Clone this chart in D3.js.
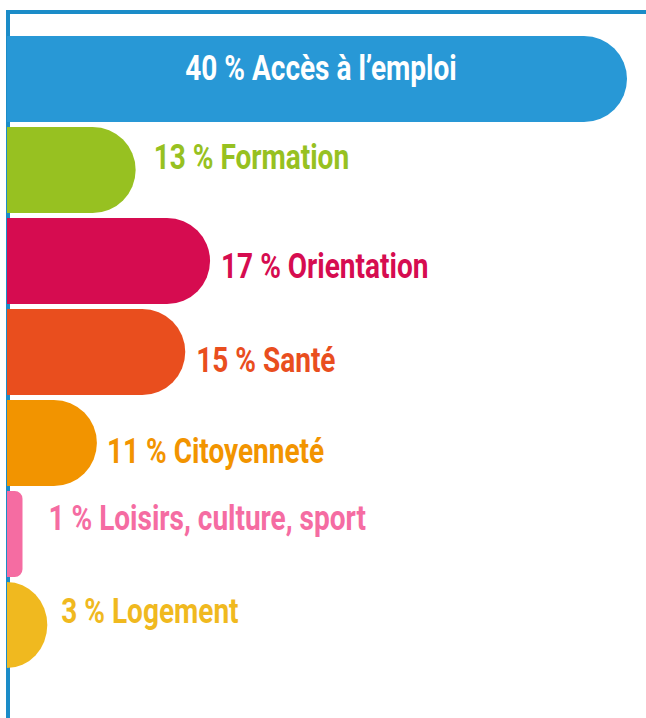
<!DOCTYPE html>
<html>
<head>
<meta charset="utf-8">
<script src="https://cdn.jsdelivr.net/npm/d3@7"></script>
<style>
  html, body { margin: 0; padding: 0; background: #fff; }
  svg { display: block; }
</style>
</head>
<body>
<svg id="chart" width="646" height="718"></svg>
<script>
// categories, from top to bottom
var themes = ["Accès à l’emploi", "Formation", "Orientation", "Santé", "Citoyenneté", "Loisirs, culture, sport", "Logement"];
// share shown in each label (%)
var shares = [40, 13, 17, 15, 11, 1, 3];
// length of each bar, in the same % units as the first bar
var barLengths = [40, 8.3, 13.1, 11.5, 5.8, 1.0, 2.6];
var colors = ["#2898d6", "#97c121", "#d60c50", "#e94e1e", "#f29400", "#f56ca2", "#f0b91f"];

// label nudges [dx, dy] from the bar end / bar middle (layout only)
var labelNudge = [[0, -11], [18, -13], [11, 5], [11, 8], [10, 8], [26, -16], [14, -14]];

var svg = d3.select("#chart");
var W = 646, H = 718;
var x0 = 7;

var x = d3.scaleLinear()
    .domain([0, 40])
    .range([x0, 627]);

var y = d3.scaleBand()
    .domain(themes)
    .range([36, 668])
    .paddingInner(5 / 91)
    .paddingOuter(0);

var h = y.bandwidth();

// bar with a square left side and a rounded right end
function barPath(w, top) {
    var rx, ry;
    if (w < 20) { rx = w / 2; ry = w / 2; }
    else { rx = Math.min(w, h / 2); ry = h / 2; }
    return "M" + x0 + "," + top +
        "H" + (x0 + w - rx) +
        "A" + rx + "," + ry + " 0 0 1 " + (x0 + w) + "," + (top + ry) +
        "V" + (top + h - ry) +
        "A" + rx + "," + ry + " 0 0 1 " + (x0 + w - rx) + "," + (top + h) +
        "H" + x0 + "Z";
}

var rows = themes.map(function(t, i) {
    return { theme: t, share: shares[i], len: barLengths[i], color: colors[i], i: i };
});

// frame: left axis and top rule
svg.append("line")
    .attr("x1", 8).attr("x2", 8)
    .attr("y1", 10).attr("y2", H)
    .attr("stroke", "#1b8cc8")
    .attr("stroke-width", 4);
svg.append("line")
    .attr("x1", 6).attr("x2", W)
    .attr("y1", 12).attr("y2", 12)
    .attr("stroke", "#1b8cc8")
    .attr("stroke-width", 4);

svg.selectAll("path.bar")
    .data(rows)
    .enter().append("path")
    .attr("class", "bar")
    .attr("d", function(d) { return barPath(x(d.len) - x0, y(d.theme)); })
    .attr("fill", function(d) { return d.color; });

var fontSize = 35, squeeze = 0.8;

svg.selectAll("text.lbl")
    .data(rows)
    .enter().append("text")
    .attr("class", "lbl")
    .attr("transform", function(d) {
        var n = labelNudge[d.i];
        var cy = y(d.theme) + h / 2 + n[1] + fontSize * 0.355;
        var cx = d.i === 0 ? (x(0) + x(d.len)) / 2 + 4 : x(d.len) + n[0];
        return "translate(" + cx + "," + cy + ") scale(" + squeeze + ",1)";
    })
    .attr("text-anchor", function(d) { return d.i === 0 ? "middle" : "start"; })
    .attr("fill", function(d) { return d.i === 0 ? "#fff" : d.color; })
    .style("font-family", "'Roboto', 'Liberation Sans', sans-serif")
    .style("font-weight", "bold")
    .style("font-size", fontSize + "px")
    .text(function(d) { return d.share + " % " + d.theme; });
</script>
</body>
</html>
